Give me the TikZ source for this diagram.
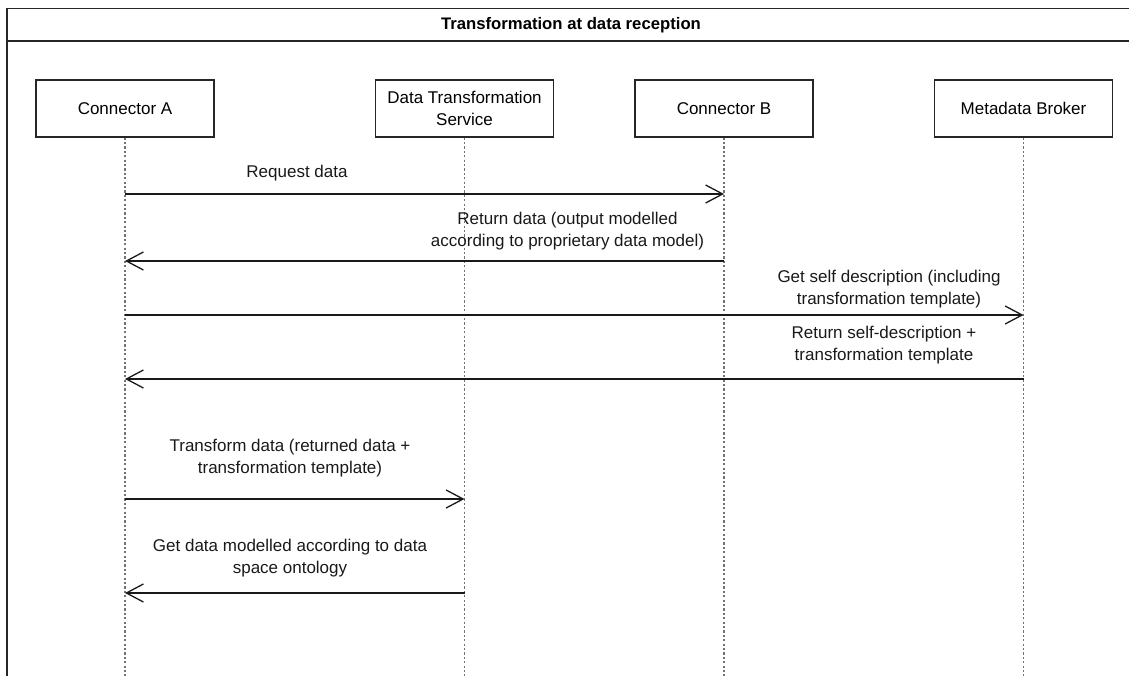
\documentclass[tikz,border=0pt]{standalone}
\usepackage{fontspec}
\setmainfont{Liberation Sans}
\usetikzlibrary{arrows.meta}

\tikzset{
  frameline/.style={line width=1.5pt, draw=black!85},
  actorbox/.style={draw=black!85, line width=1.3pt, minimum width=178pt, minimum height=57pt,
                   align=center, inner sep=0pt, fill=white},
  lifeline/.style={draw=black!55, line width=1.9pt, dash pattern=on 2.2pt off 2.2pt},
  msg/.style={line width=1.3pt, draw=black!90, -{Straight Barb[length=17pt, width=18pt, line width=1.3pt]}},
  msglabel/.style={align=center, inner sep=0pt, text=black!90},
}

\begin{document}
\begin{tikzpicture}[x=1pt, y=-1pt, font=\fontsize{17}{22}\selectfont]
  \useasboundingbox (0,0) rectangle (1129,675);
  \clip (0,0) rectangle (1129,675);

  % outer frame with header band
  \draw[frameline] (7,690) -- (7,8.7) -- (1140,8.7);
  \draw[frameline] (7,41) -- (1140,41);
  \node[font=\bfseries\fontsize{16.7}{20}\selectfont, inner sep=0pt] (title) at (571,25) {Transformation at data reception};

  % participants
  \node[actorbox] (A)  at (125,108.5) {Connector A};
  \node[actorbox] (T)  at (464.5,108.5) {Data Transformation\\Service};
  \node[actorbox] (B)  at (724,108.5) {Connector B};
  \node[actorbox] (MB) at (1023.5,108.5) {Metadata Broker};

  % lifeline ends
  \coordinate (Aend)  at (A.south |- 0,680);
  \coordinate (Tend)  at (T.south |- 0,680);
  \coordinate (Bend)  at (B.south |- 0,680);
  \coordinate (MBend) at (MB.south |- 0,680);

  \draw[lifeline] (A.south) -- (Aend);
  \draw[lifeline] (T.south) -- (Tend);
  \draw[lifeline] (B.south) -- (Bend);
  \draw[lifeline] (MB.south) -- (MBend);

  % message anchor points on the lifelines
  \coordinate (A1) at (A.south |- 0,194);   \coordinate (B1) at (B.south |- 0,194);
  \coordinate (A2) at (A.south |- 0,261);   \coordinate (B2) at (B.south |- 0,261);
  \coordinate (A3) at (A.south |- 0,315);   \coordinate (M3) at (MB.south |- 0,315);
  \coordinate (A4) at (A.south |- 0,379);   \coordinate (M4) at (MB.south |- 0,379);
  \coordinate (A5) at (A.south |- 0,499);   \coordinate (T5) at (T.south |- 0,499);
  \coordinate (A6) at (A.south |- 0,593);   \coordinate (T6) at (T.south |- 0,593);

  % messages
  \draw[msg] (A1) -- (B1);
  \draw[msg] (B2) -- (A2);
  \draw[msg] (A3) -- (M3);
  \draw[msg] (M4) -- (A4);
  \draw[msg] (A5) -- (T5);
  \draw[msg] (T6) -- (A6);

  % message labels
  \node[msglabel] (l1) at (297,173) {Request data};
  \node[msglabel] (l2) at (567.5,231) {Return data (output modelled\\according to proprietary data model)};
  \node[msglabel] (l3) at (889,289) {Get self description (including\\transformation template)};
  \node[msglabel] (l4) at (884,345.5) {Return self-description +\\transformation template};
  \node[msglabel] (l5) at (290,458) {Transform data (returned data +\\transformation template)};
  \node[msglabel] (l6) at (290,558) {Get data modelled according to data\\space ontology};
\end{tikzpicture}
\end{document}
